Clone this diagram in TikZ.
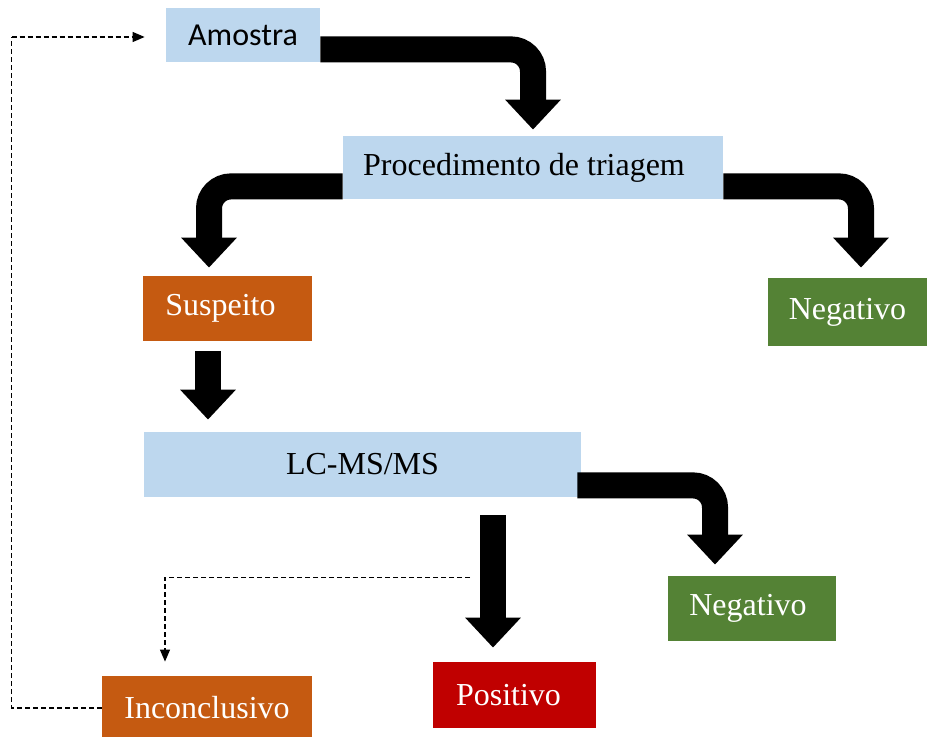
\documentclass[tikz,border=0pt]{standalone}
\usepackage{fontspec}
\setmainfont{Liberation Serif}
\newfontfamily\calibrifont{Carlito}
\usepackage{xcolor}
\usepackage{tikz}
\usetikzlibrary{arrows.meta,positioning,calc}
\definecolor{boxblue}{RGB}{189,215,238}
\definecolor{boxorange}{RGB}{197,90,17}
\definecolor{boxgreen}{RGB}{84,130,53}
\definecolor{boxred}{RGB}{192,0,0}

\begin{document}
\begin{tikzpicture}[
    x=0.5pt, y=-0.5pt,
    stage/.style={rectangle, fill=#1, inner sep=0pt,
                  font=\fontsize{16pt}{19pt}\selectfont},
    result/.style={stage=#1, text=white},
    bigarrow/.style={line width=13pt, rounded corners=11pt,
                     -{Triangle[width=27pt,length=15pt]}},
    dasharrow/.style={line width=0.6pt, dash pattern=on 2.5pt off 1.5pt,
                      -{Triangle[width=5pt,length=6pt]}}
]
\useasboundingbox (0,0) rectangle (927,737);

% Process boxes
\node[stage=boxblue, minimum width=77pt, minimum height=27pt,
      font=\fontsize{16pt}{19pt}\calibrifont] (amostra) at (243,35) {\raisebox{-2pt}{Amostra}};
\node[stage=boxblue, minimum width=190pt, minimum height=31.5pt] (proc) at (533,167.5) {Procedimento de triagem\hspace{9pt}\mbox{}};
\node[stage=boxblue, minimum width=218.5pt, minimum height=32.5pt] (lc) at (362.5,464.5) {LC-MS/MS};

% Result boxes
\node[result=boxorange, minimum width=84.5pt, minimum height=32.5pt] (susp) at (227.5,308.5) {Suspeito\hspace{7pt}\mbox{}};
\node[result=boxgreen, minimum width=79.5pt, minimum height=34pt] (neg1) at (847.5,312) {Negativo};
\node[result=boxgreen, minimum width=84pt, minimum height=32.5pt] (neg2) at (752,608.5) {Negativo\hspace{4pt}\mbox{}};
\node[result=boxred, minimum width=81.5pt, minimum height=33pt] (pos) at (514.5,695) {Positivo\hspace{6pt}\mbox{}};
\node[result=boxorange, minimum width=105pt, minimum height=32pt] (inc) at (207,708) {Inconclusivo};

% Thick arrows
\draw[bigarrow] ($(amostra.south east)+(0,-13)$) -| ($(proc.north)+(0,-6)$);
\draw[bigarrow] ($(proc.south west)+(0,-13)$) -| ($(susp.north)+(-18.5,-8)$);
\draw[bigarrow] ($(proc.south east)+(0,-13)$) -| ($(neg1.north)+(13.5,-10)$);
\draw[bigarrow] ($(susp.south)+(-19.5,10)$) -- ($(lc.north)+(-154.5,-12)$);
\draw[bigarrow] ($(lc.south east)+(-4,-12)$) -| ($(neg2.north)+(-37,-11)$);
\draw[bigarrow] ($(lc.south)+(130.5,18)$) -- ($(pos.north)+(-21.5,-14)$);

% Dashed paths for inconclusive results
\coordinate (split) at ($(lc.south)+(107.5,80)$);
\coordinate (back) at ($(amostra.west)+(-154,2)$);
\draw[dasharrow] (split) -| ($(inc.north)+(-42,-14)$);
\draw[dasharrow, -] (inc.west) -| (back);
\draw[dasharrow] (back) -- ($(amostra.west)+(-21,2)$);

\end{tikzpicture}
\end{document}
